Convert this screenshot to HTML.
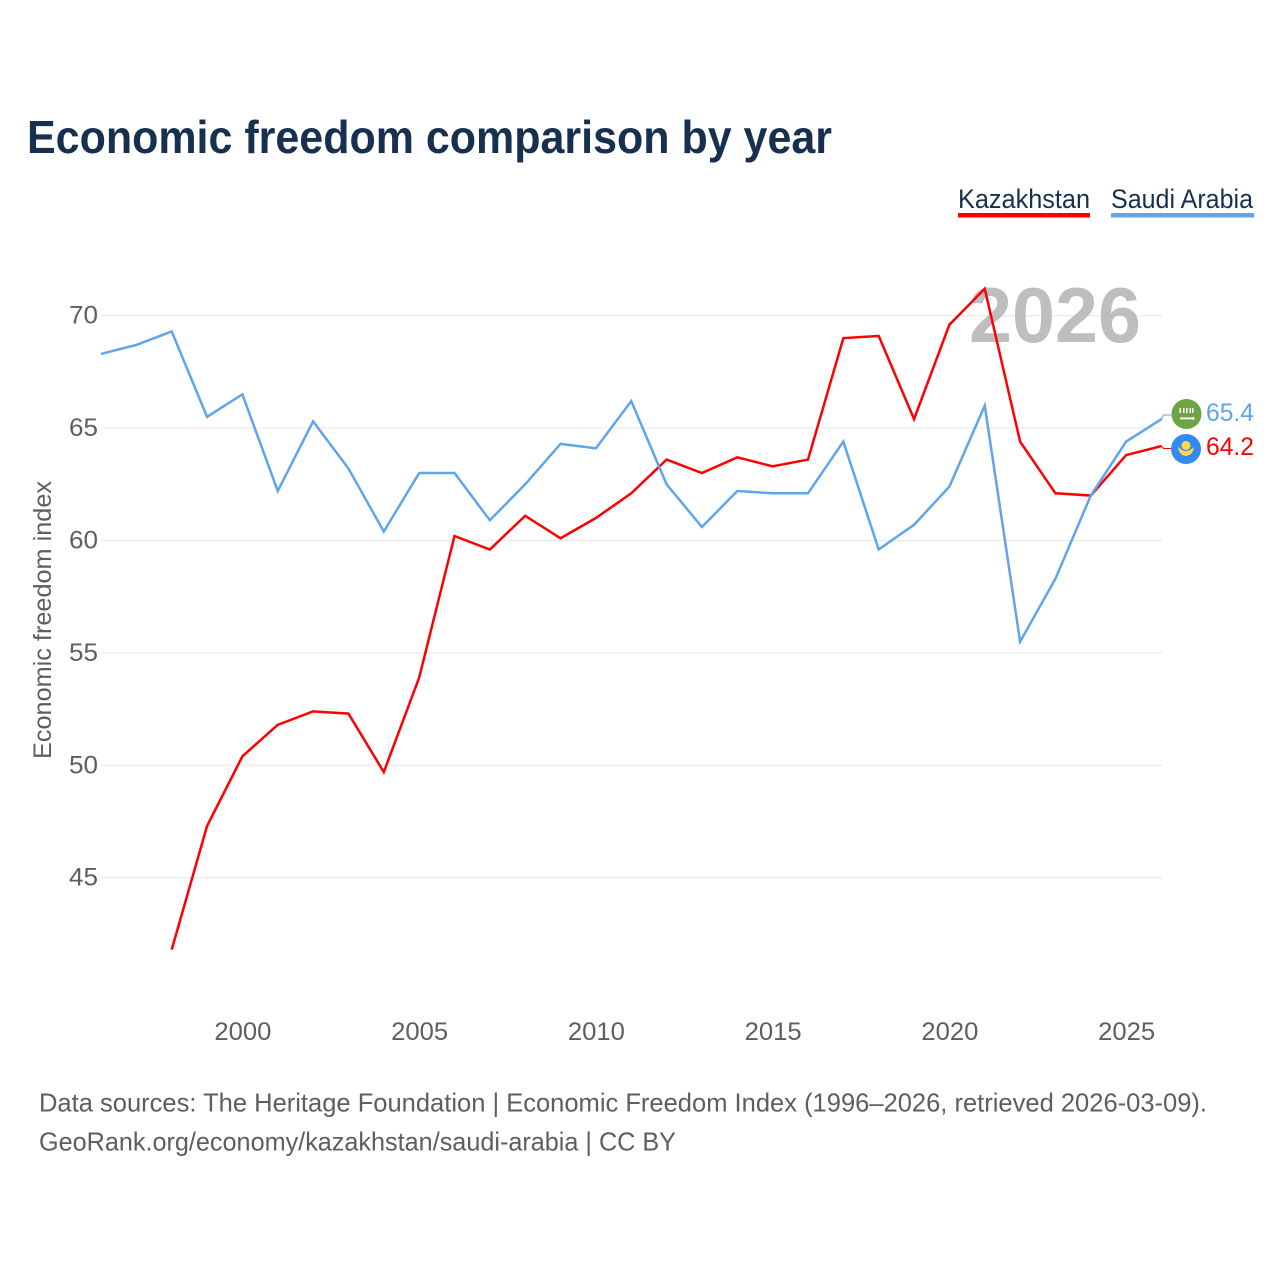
<!DOCTYPE html>
<html lang="en">
<head>
<meta charset="utf-8">
<title>Economic freedom comparison by year</title>
<style>
html,body{margin:0;padding:0;background:#fff}
svg{display:block;font-family:"Liberation Sans",sans-serif}
</style>
</head>
<body>
<svg id="chart" xmlns="http://www.w3.org/2000/svg" width="1280" height="1280" viewBox="0 0 1280 1280">
  <rect x="0" y="0" width="1280" height="1280" fill="#fff"/>
  <text x="27" y="153" font-size="46" font-weight="700" fill="#18304f" textLength="805" lengthAdjust="spacingAndGlyphs">Economic freedom comparison by year</text>

  <g>
    <text x="958" y="208" font-size="27" fill="#18304f" textLength="132" lengthAdjust="spacingAndGlyphs">Kazakhstan</text>
    <rect x="958" y="213" width="132" height="4.5" fill="#ff0000"/>
  </g>
  <g>
    <text x="1111" y="208" font-size="27" fill="#18304f" textLength="142" lengthAdjust="spacingAndGlyphs">Saudi Arabia</text>
    <rect x="1111" y="213" width="143" height="4.5" fill="#60a5ea"/>
  </g>

  <g id="grid"></g>
  <text x="969" y="342" font-size="78" font-weight="700" fill="#b3b3b3" fill-opacity="0.85" textLength="172" lengthAdjust="spacingAndGlyphs">2026</text>
  <g id="y-ticks"></g>
  <g id="x-ticks"></g>
  <text transform="translate(51,759) rotate(-90)" x="0" y="0" font-size="25" fill="#5e5e5e" textLength="278" lengthAdjust="spacingAndGlyphs">Economic freedom index</text>

  <g id="series"></g>

  <g>
    <circle cx="1186.5" cy="414" r="15" fill="#6da544"/>
    <path d="M1179.500 408v5h1.500v-5zM1183 408v5h1.500v-5zM1186 408v5h1.500v-5zM1189.500 408v5h1.500v-5zM1192 408v5h1.500v-5z" fill="#fff"/>
    <rect x="1180" y="417.500" width="13" height="1.800" fill="#fff"/>
    <circle cx="1193" cy="418.400" r="1.500" fill="#fff"/>
  </g>
  <g>
    <circle cx="1186" cy="449" r="15" fill="#338af3"/>
    <circle cx="1186" cy="445.500" r="4.500" fill="#ffda44"/>
    <path d="M1178 447 L1182 450 Q1186 452 1190 450 L1194 447 Q1193 455 1186 456 Q1179 455 1178 447 Z" fill="#ffda44"/>
  </g>
  <text x="1206" y="421" font-size="25" fill="#60a5ea" textLength="48" lengthAdjust="spacingAndGlyphs">65.4</text>
  <text x="1206" y="455" font-size="25" fill="#ff0000" textLength="48" lengthAdjust="spacingAndGlyphs">64.2</text>

  <text x="39" y="1111.500" font-size="26" fill="#5e5e5e" textLength="1168" lengthAdjust="spacingAndGlyphs">Data sources: The Heritage Foundation | Economic Freedom Index (1996–2026, retrieved 2026-03-09).</text>
  <text x="39" y="1150.500" font-size="26" fill="#5e5e5e" textLength="637" lengthAdjust="spacingAndGlyphs">GeoRank.org/economy/kazakhstan/saudi-arabia | CC BY</text>
</svg>
<script>
const years = [1996,1997,1998,1999,2000,2001,2002,2003,2004,2005,2006,2007,2008,2009,2010,2011,2012,2013,2014,2015,2016,2017,2018,2019,2020,2021,2022,2023,2024,2025,2026];
const kazakhstan = [null,null,41.8,47.3,50.4,51.8,52.4,52.3,49.7,53.9,60.2,59.6,61.1,60.1,61.0,62.1,63.6,63.0,63.7,63.3,63.6,69.0,69.1,65.4,69.6,71.2,64.4,62.1,62.0,63.8,64.2];
const saudiArabia = [68.3,68.7,69.3,65.5,66.5,62.2,65.3,63.2,60.4,63.0,63.0,60.9,62.5,64.3,64.1,66.2,62.5,60.6,62.2,62.1,62.1,64.4,59.6,60.7,62.4,66.0,55.5,58.3,62.0,64.4,65.4];
const yTickValues = [45,50,55,60,65,70];
const xTickValues = [2000,2005,2010,2015,2020,2025];

const NS = 'http://www.w3.org/2000/svg';
const xScale = function (year) { return 101 + (year - 1996) * (1161.5 - 101) / 30; };
const yScale = function (value) { return 315.7 + (70 - value) * 22.48; };
const gridLayer = document.getElementById('grid');
const yTickLayer = document.getElementById('y-ticks');
const xTickLayer = document.getElementById('x-ticks');
const seriesLayer = document.getElementById('series');

yTickValues.forEach(function (v) {
  const line = document.createElementNS(NS, 'line');
  
  
  line.setAttribute('x1', 101);
  line.setAttribute('x2', 1162);
  line.setAttribute('y1', yScale(v));
  line.setAttribute('y2', yScale(v));
  line.setAttribute('stroke', '#ebebeb');
  line.setAttribute('stroke-width', 1.3);
  gridLayer.appendChild(line);
  const label = document.createElementNS(NS, 'text');
  
  
  label.setAttribute('x', 69);
  label.setAttribute('y', yScale(v) + 8);
  label.setAttribute('font-size', 25);
  label.setAttribute('fill', '#5e5e5e');
  label.setAttribute('textLength', 29);
  label.setAttribute('lengthAdjust', 'spacingAndGlyphs');
  label.textContent = v;
  yTickLayer.appendChild(label);
});

xTickValues.forEach(function (y) {
  const label = document.createElementNS(NS, 'text');
  
  
  label.setAttribute('x', xScale(y) - 28);
  label.setAttribute('y', 1040);
  label.setAttribute('font-size', 25);
  label.setAttribute('fill', '#5e5e5e');
  label.setAttribute('textLength', 57);
  label.setAttribute('lengthAdjust', 'spacingAndGlyphs');
  label.textContent = y;
  xTickLayer.appendChild(label);
});

function drawSeries(values, color, key, flagY) {
  const pts = [];
  values.forEach(function (v, i) {
    if (v !== null) pts.push(xScale(years[i]).toFixed(2) + ',' + yScale(v).toFixed(2));
  });
  const path = document.createElementNS(NS, 'polyline');
  
  
  path.setAttribute('points', pts.join(' '));
  path.setAttribute('fill', 'none');
  path.setAttribute('stroke', color);
  path.setAttribute('stroke-width', 2.5);
  path.setAttribute('stroke-linejoin', 'miter');
  seriesLayer.appendChild(path);
  const endX = xScale(years[years.length - 1]);
  const endY = yScale(values[values.length - 1]);
  const conn = document.createElementNS(NS, 'polyline');
  
  
  conn.setAttribute('points', endX + ',' + endY + ' ' + (endX + 2) + ',' + flagY + ' ' + (endX + 10) + ',' + flagY);
  conn.setAttribute('fill', 'none');
  conn.setAttribute('stroke', color);
  conn.setAttribute('stroke-width', 1);
  seriesLayer.appendChild(conn);
}
drawSeries(kazakhstan, '#ff0000', 'kazakhstan', 448.5);
drawSeries(saudiArabia, '#60a5ea', 'saudi-arabia', 415);
</script>
</body>
</html>
